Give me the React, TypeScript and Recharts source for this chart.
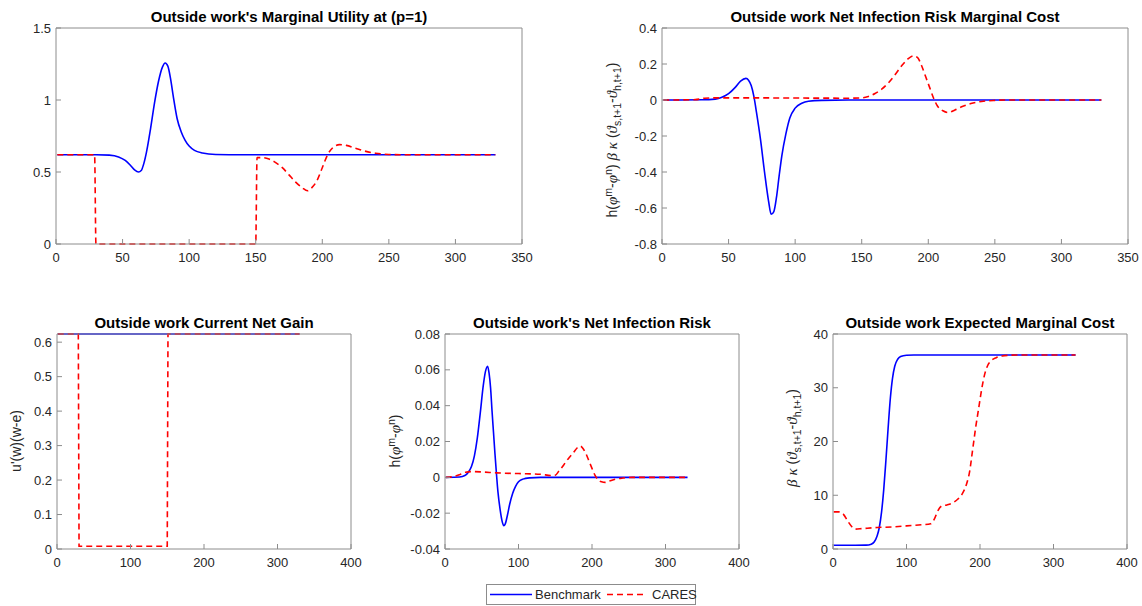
import React from 'react';
import { LineChart, Line, XAxis, YAxis } from 'recharts';

type Pt = [number, number];

// ---- tick values ----
const xTicksWide = [0, 50, 100, 150, 200, 250, 300, 350];
const xTicksNarrow = [0, 100, 200, 300, 400];
const yTicksUtility = [0, 0.5, 1, 1.5];
const yTicksRiskCost = [-0.8, -0.6, -0.4, -0.2, 0, 0.2, 0.4];
const yTicksGain = [0, 0.1, 0.2, 0.3, 0.4, 0.5, 0.6];
const yTicksRisk = [-0.04, -0.02, 0, 0.02, 0.04, 0.06, 0.08];
const yTicksExpected = [0, 10, 20, 30, 40];

// ---- Outside work's marginal utility (p=1) ----
const utilityBenchmark: Pt[] = [
  [1, 0.62], [30, 0.62], [40, 0.617], [47, 0.605], [52, 0.58], [56, 0.545], [59, 0.515],
  [62, 0.5], [64, 0.51], [66, 0.56], [68, 0.64], [71, 0.8], [74, 0.98], [77, 1.13],
  [80, 1.23], [82, 1.257], [84, 1.235], [86, 1.15], [88, 1.03], [91, 0.87], [94, 0.78],
  [97, 0.72], [100, 0.68], [104, 0.65], [110, 0.632], [120, 0.622], [140, 0.62], [330, 0.62],
];
const utilityCares: Pt[] = [
  [1, 0.62], [29, 0.62], [30, 0], [150, 0], [151, 0.6], [155, 0.6], [160, 0.59], [165, 0.565],
  [170, 0.53], [175, 0.48], [180, 0.43], [185, 0.39], [189, 0.37], [192, 0.39], [196, 0.44],
  [200, 0.53], [204, 0.62], [208, 0.67], [213, 0.69], [218, 0.685], [225, 0.665], [232, 0.645],
  [240, 0.63], [250, 0.622], [260, 0.62], [330, 0.62],
];

// ---- Net infection risk marginal cost ----
const riskCostBenchmark: Pt[] = [
  [1, 0], [30, 0.001], [40, 0.005], [45, 0.015], [50, 0.035], [55, 0.07], [59, 0.105],
  [63, 0.12], [65, 0.11], [67, 0.08], [69, 0.02], [71, -0.07], [74, -0.22], [77, -0.4],
  [80, -0.56], [82, -0.635], [84, -0.62], [86, -0.54], [88, -0.42], [90, -0.31], [93, -0.19],
  [96, -0.1], [100, -0.045], [105, -0.018], [110, -0.007], [120, -0.002], [140, 0], [330, 0],
];
const riskCostCares: Pt[] = [
  [1, 0], [25, 0.002], [32, 0.01], [40, 0.012], [60, 0.012], [100, 0.011], [140, 0.01],
  [150, 0.012], [155, 0.02], [160, 0.036], [165, 0.06], [170, 0.095], [175, 0.14], [180, 0.19],
  [185, 0.23], [189, 0.245], [192, 0.235], [195, 0.19], [198, 0.13], [201, 0.07], [204, 0.01],
  [207, -0.035], [211, -0.06], [215, -0.07], [220, -0.055], [226, -0.035], [232, -0.02],
  [240, -0.008], [250, -0.002], [260, 0], [330, 0],
];

// ---- Current net gain ----
const gainBenchmark: Pt[] = [[1, 0.6237], [330, 0.6237]];
const gainCares: Pt[] = [[1, 0.6237], [29, 0.6237], [30, 0.008], [150, 0.008], [151, 0.6237], [330, 0.6237]];

// ---- Net infection risk ----
const riskBenchmark: Pt[] = [
  [1, 0], [20, 0.0002], [27, 0.001], [32, 0.003], [36, 0.006], [40, 0.012], [44, 0.022],
  [48, 0.036], [52, 0.051], [55, 0.059], [58, 0.062], [60, 0.058], [62, 0.05], [64, 0.037],
  [66, 0.025], [68, 0.013], [70, 0.002], [72, -0.008], [75, -0.018], [78, -0.025], [80, -0.027],
  [82, -0.026], [85, -0.021], [88, -0.015], [92, -0.009], [96, -0.005], [100, -0.0025],
  [106, -0.001], [115, -0.0003], [130, 0], [330, 0],
];
const riskCares: Pt[] = [
  [1, 0], [10, 0.0003], [20, 0.0015], [28, 0.0028], [35, 0.0032], [50, 0.003], [70, 0.0025],
  [100, 0.0021], [130, 0.0017], [145, 0.001], [150, 0.0012], [155, 0.0035], [160, 0.006],
  [165, 0.009], [170, 0.0115], [175, 0.014], [180, 0.0165], [184, 0.0175], [188, 0.016],
  [192, 0.013], [196, 0.009], [200, 0.005], [204, 0.0012], [208, -0.0012], [213, -0.0025],
  [218, -0.0028], [224, -0.002], [232, -0.001], [242, -0.0004], [255, 0], [330, 0],
];

// ---- Expected marginal cost ----
const expectedBenchmark: Pt[] = [
  [1, 0.7], [30, 0.7], [45, 0.72], [52, 0.9], [56, 1.3], [60, 2.4], [63, 4], [66, 6.8],
  [69, 11], [72, 16.5], [75, 22.5], [78, 28], [81, 31.8], [84, 34], [88, 35.3], [92, 35.8],
  [100, 36.05], [110, 36.1], [330, 36.1],
];
const expectedCares: Pt[] = [
  [1, 6.9], [8, 6.9], [14, 6.5], [20, 5.2], [26, 4.1], [30, 3.7], [40, 3.8], [60, 4], [80, 4.1],
  [100, 4.3], [120, 4.5], [133, 4.7], [138, 5.6], [143, 7.2], [148, 8], [155, 8.2], [163, 8.6],
  [170, 9.3], [176, 10.3], [181, 11.8], [186, 14.5], [190, 18.5], [194, 22.5], [198, 26],
  [202, 29.5], [206, 32.3], [210, 34], [215, 35], [222, 35.6], [230, 35.9], [240, 36.05],
  [250, 36.1], [330, 36.1],
];

const toRows = (pts: Pt[]) => pts.map(([x, y]) => ({ x, y }));

const AXIS = '#8c8c8c';
const INK = '#262626';
const BLUE = '#0000ff';
const RED = '#ff0000';
const FONT = '"Liberation Sans", Arial, Helvetica, sans-serif';
const GREEK = '"Liberation Serif", "DejaVu Serif", serif';

interface PanelProps {
  left: number;
  top: number;
  width: number;
  height: number;
  plot: { x0: number; x1: number; y0: number; y1: number };
  xDomain: [number, number];
  xTicks: number[];
  yDomain: [number, number];
  yTicks: number[];
  benchmark: Pt[];
  cares: Pt[];
  curve: 'monotone' | 'linear';
}

function Panel(p: PanelProps) {
  const yAxisW = 50;
  const margin = {
    left: p.plot.x0 - p.left - yAxisW,
    right: p.left + p.width - p.plot.x1 - 1,
    top: p.plot.y0 - p.top - 1,
    bottom: p.top + p.height - p.plot.y1 - 30,
  };
  const tickStyle = { fill: INK, fontSize: 13, fontFamily: FONT };
  return (
    <div style={{ position: 'absolute', left: p.left, top: p.top }}>
      <LineChart width={p.width} height={p.height} margin={margin}>
        <XAxis xAxisId="b" type="number" dataKey="x" domain={p.xDomain} ticks={p.xTicks}
          interval={0} height={30} tickSize={-5} tickMargin={14}
          stroke={AXIS} tick={tickStyle} />
        <XAxis xAxisId="t" orientation="top" type="number" dataKey="x" domain={p.xDomain}
          ticks={p.xTicks} allowDataOverflow interval={0} height={1} tickSize={-5}
          stroke={AXIS} tick={false} />
        <YAxis yAxisId="l" type="number" domain={p.yDomain} ticks={p.yTicks}
          interval={0} width={yAxisW} tickSize={-5} tickMargin={10} stroke={AXIS} tick={tickStyle} />
        <YAxis yAxisId="r" orientation="right" type="number" domain={p.yDomain} ticks={p.yTicks}
          allowDataOverflow interval={0} width={1} tickSize={-5} stroke={AXIS} tick={false} />
        <Line xAxisId="b" yAxisId="l" data={toRows(p.benchmark)} dataKey="y" type={p.curve}
          stroke={BLUE} strokeWidth={1.6} dot={false} isAnimationActive={false} />
        <Line xAxisId="b" yAxisId="l" data={toRows(p.cares)} dataKey="y" type={p.curve}
          stroke={RED} strokeWidth={1.6} strokeDasharray="6 4" dot={false} isAnimationActive={false} />
      </LineChart>
    </div>
  );
}

type Piece = { t: string; pos?: 'sup' | 'sub'; greek?: boolean };

function MathLabel({ cx, cy, pieces }: { cx: number; cy: number; pieces: Piece[] }) {
  let level = 0;
  return (
    <text transform={`translate(${cx},${cy}) rotate(-90)`} textAnchor="middle" fontSize={14}
      fill={INK} fontFamily={FONT} style={{ whiteSpace: 'pre' }}>
      {pieces.map((pc, i) => {
        const next = pc.pos === 'sup' ? -5 : pc.pos === 'sub' ? 4 : 0;
        const dy = next - level;
        level = next;
        return (
          <tspan key={i} dy={dy}
            fontSize={pc.pos ? 10.5 : pc.greek ? 15 : 14}
            fontFamily={pc.greek ? GREEK : FONT}
            fontStyle={pc.greek ? 'italic' : 'normal'}>
            {pc.t}
          </tspan>
        );
      })}
    </text>
  );
}

const phiDiff: Piece[] = [
  { t: 'h(' }, { t: 'φ', greek: true }, { t: 'm', pos: 'sup' }, { t: '-' },
  { t: 'φ', greek: true }, { t: 'n', pos: 'sup' }, { t: ')' },
];
const thetaDiff: Piece[] = [
  { t: 'β', greek: true }, { t: ' ' }, { t: 'κ', greek: true }, { t: ' (' },
  { t: 'ϑ', greek: true }, { t: 's,t+1', pos: 'sub' }, { t: '-' },
  { t: 'ϑ', greek: true }, { t: 'h,t+1', pos: 'sub' }, { t: ')' },
];

function Overlay() {
  const title = { fontFamily: FONT, fontSize: 15, fontWeight: 700, fill: '#000', textAnchor: 'middle' as const };
  return (
    <svg width={1142} height={606} style={{ position: 'absolute', left: 0, top: 0, pointerEvents: 'none' }}>
      <text x={289} y={22} {...title}>Outside work's Marginal Utility at (p=1)</text>
      <text x={895} y={22} {...title}>Outside work Net Infection Risk Marginal Cost</text>
      <text x={204} y={328} {...title}>Outside work Current Net Gain</text>
      <text x={592} y={328} {...title}>Outside work's Net Infection Risk</text>
      <text x={980} y={328} {...title}>Outside work Expected Marginal Cost</text>

      <MathLabel cx={617} cy={140} pieces={[...phiDiff, { t: ' ' }, ...thetaDiff]} />
      <MathLabel cx={21} cy={441} pieces={[{ t: "u'(w)(w-e)" }]} />
      <MathLabel cx={400} cy={441} pieces={phiDiff} />
      <MathLabel cx={797} cy={438} pieces={thetaDiff} />

      <rect x={486.5} y={584.5} width={209} height={20} fill="#fff" stroke="#8c8c8c" strokeWidth={1} />
      <line x1={490} x2={532} y1={594.5} y2={594.5} stroke={BLUE} strokeWidth={1.6} />
      <text x={535} y={599} fontFamily={FONT} fontSize={13} fill={INK}>Benchmark</text>
      <line x1={607} x2={647} y1={594.5} y2={594.5} stroke={RED} strokeWidth={1.6} strokeDasharray="6 4" />
      <text x={652} y={599} fontFamily={FONT} fontSize={13} fill={INK}>CARES</text>
    </svg>
  );
}

export default function App() {
  return (
    <div style={{ position: 'absolute', left: 0, top: 0, width: 1142, height: 606, background: '#fff', overflow: 'hidden' }}>
      <Panel left={0} top={0} width={560} height={280} plot={{ x0: 56, x1: 522, y0: 28, y1: 244 }}
        xDomain={[0, 350]} xTicks={xTicksWide} yDomain={[0, 1.5]} yTicks={yTicksUtility}
        benchmark={utilityBenchmark} cares={utilityCares} curve="monotone" />
      <Panel left={600} top={0} width={542} height={280} plot={{ x0: 662, x1: 1128, y0: 28, y1: 244 }}
        xDomain={[0, 350]} xTicks={xTicksWide} yDomain={[-0.8, 0.4]} yTicks={yTicksRiskCost}
        benchmark={riskCostBenchmark} cares={riskCostCares} curve="monotone" />
      <Panel left={0} top={300} width={380} height={306} plot={{ x0: 57, x1: 351, y0: 334, y1: 549 }}
        xDomain={[0, 400]} xTicks={xTicksNarrow} yDomain={[0, 0.6237]} yTicks={yTicksGain}
        benchmark={gainBenchmark} cares={gainCares} curve="linear" />
      <Panel left={380} top={300} width={380} height={306} plot={{ x0: 445, x1: 739, y0: 334, y1: 549 }}
        xDomain={[0, 400]} xTicks={xTicksNarrow} yDomain={[-0.04, 0.08]} yTicks={yTicksRisk}
        benchmark={riskBenchmark} cares={riskCares} curve="monotone" />
      <Panel left={760} top={300} width={382} height={306} plot={{ x0: 833, x1: 1127, y0: 334, y1: 549 }}
        xDomain={[0, 400]} xTicks={xTicksNarrow} yDomain={[0, 40]} yTicks={yTicksExpected}
        benchmark={expectedBenchmark} cares={expectedCares} curve="monotone" />
      <Overlay />
    </div>
  );
}
